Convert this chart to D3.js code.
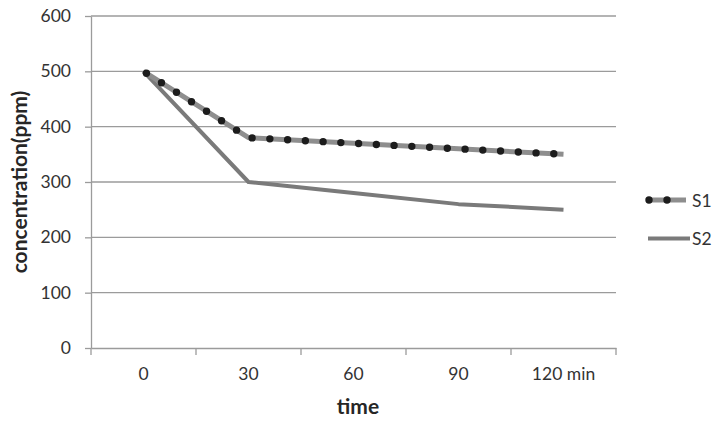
<!DOCTYPE html>
<html>
<head>
<meta charset="utf-8">
<script src="https://cdn.jsdelivr.net/npm/d3@7/dist/d3.min.js"></script>
<style>
  html, body { margin: 0; padding: 0; background: #fff; }
  svg { display: block; }
  text { font-family: Lato, "Open Sans", sans-serif; }
</style>
</head>
<body>
<svg id="chart" width="719" height="422"></svg>
<script>
const categories = ["0", "30", "60", "90", "120 min"];
const s1Values = [500, 380, 370, 360, 350];
const s2Values = [500, 300, 280, 260, 250];
const yTicks = [0, 100, 200, 300, 400, 500, 600];
const seriesNames = ["S1", "S2"];
const xTitle = "time";
const yTitle = "concentration(ppm)";

const svg = d3.select("#chart");
const plot = { left: 91, right: 616, top: 16, bottom: 348 };

const x = d3.scaleBand().domain(categories).range([plot.left, plot.right]).padding(0);
const cx = c => x(c) + x.bandwidth() / 2;
const y = d3.scaleLinear().domain([0, 600]).range([plot.bottom, plot.top]);

const gridColor = "#9b9b9b";
const textColor = "#333333";

// gridlines
svg.append("g").selectAll("line").data(yTicks.filter(d => d > 0)).join("line")
  .attr("x1", plot.left).attr("x2", plot.right)
  .attr("y1", d => y(d)).attr("y2", d => y(d))
  .attr("stroke", gridColor).attr("stroke-width", 1.3);

// y axis
const yAxis = svg.append("g").attr("transform", `translate(${plot.left},0)`)
  .call(d3.axisLeft(y).tickValues(yTicks).tickSize(6).tickPadding(14).tickSizeOuter(0));
yAxis.select(".domain").attr("stroke", gridColor).attr("stroke-width", 1.3);
yAxis.selectAll(".tick line").attr("stroke", gridColor).attr("stroke-width", 1.3);
yAxis.selectAll(".tick text").attr("font-size", 17.5).attr("fill", textColor)
  .attr("font-family", "Lato, sans-serif");

// x axis (labels at centers, ticks at boundaries)
const xAxis = svg.append("g").attr("transform", `translate(0,${plot.bottom})`)
  .call(d3.axisBottom(x).tickSize(0).tickPadding(20).tickSizeOuter(0));
xAxis.select(".domain").attr("stroke", gridColor).attr("stroke-width", 1.3);
xAxis.selectAll(".tick text").attr("font-size", 17.5).attr("fill", textColor)
  .attr("font-family", "Lato, sans-serif");
const bounds = categories.map(c => x(c)).concat([x(categories[categories.length - 1]) + x.bandwidth()]);
xAxis.append("g").selectAll("line").data(bounds).join("line")
  .attr("x1", d => d).attr("x2", d => d).attr("y1", 0).attr("y2", 7)
  .attr("stroke", gridColor).attr("stroke-width", 1.3);

// axis titles
svg.append("text").attr("x", 358).attr("y", 414).attr("text-anchor", "middle")
  .attr("font-size", 21).attr("font-weight", "bold").attr("fill", "#262626").text(xTitle);
svg.append("text").attr("transform", "translate(27,182) rotate(-90)").attr("text-anchor", "middle")
  .attr("font-size", 21).attr("font-weight", "bold").attr("fill", "#262626").text(yTitle);

// lines
const line = d3.line().x((d, i) => cx(categories[i])).y(d => y(d));

svg.append("path").attr("d", line(s2Values)).attr("fill", "none")
  .attr("stroke", "#7a7a7a").attr("stroke-width", 4).attr("stroke-linejoin", "round");

svg.append("path").attr("d", line(s1Values)).attr("fill", "none")
  .attr("stroke", "#8e8e8e").attr("stroke-width", 5).attr("stroke-linejoin", "round");
svg.append("path").attr("d", line(s1Values)).attr("fill", "none")
  .attr("stroke", "#1c1c1c").attr("stroke-width", 7.4).attr("stroke-linecap", "round")
  .attr("stroke-dasharray", "0 17.77").attr("stroke-dashoffset", 14.3);

// legend
const leg = svg.append("g");
leg.append("line").attr("x1", 648).attr("x2", 686).attr("y1", 200).attr("y2", 200)
  .attr("stroke", "#8e8e8e").attr("stroke-width", 5);
leg.append("path").attr("d", "M649,200H685").attr("stroke", "#1c1c1c").attr("stroke-width", 7.4)
  .attr("stroke-linecap", "round").attr("stroke-dasharray", "0 18").attr("fill", "none");
leg.append("line").attr("x1", 648).attr("x2", 690).attr("y1", 238.5).attr("y2", 238.5)
  .attr("stroke", "#7a7a7a").attr("stroke-width", 4);
leg.selectAll("text").data(seriesNames).join("text")
  .attr("x", 692).attr("y", (d, i) => i === 0 ? 206.5 : 245)
  .attr("font-size", 17.5).attr("fill", textColor).text(d => d);
</script>
</body>
</html>
